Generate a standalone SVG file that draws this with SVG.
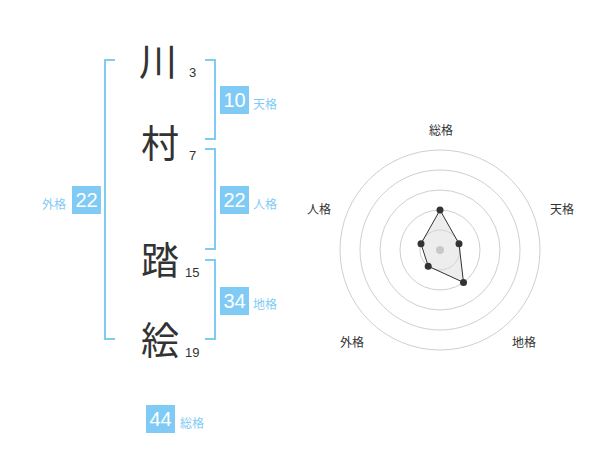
<svg xmlns="http://www.w3.org/2000/svg" width="600" height="470" viewBox="0 0 600 470">
<style>
.kanji{font-family:"Noto Sans CJK JP","Noto Sans CJK SC",sans-serif;font-size:38px;fill:#333;text-anchor:middle}
.num{font-family:"Liberation Sans",Arial,sans-serif;font-size:13px;fill:#333}
.br{fill:none;stroke:#7fcbf5;stroke-width:2}
.box{fill:#7fcbf5}
.bt{font-family:"Liberation Sans",Arial,sans-serif;font-size:20px;fill:#fff;text-anchor:middle}
.lb{font-family:"Noto Sans CJK JP","Noto Sans CJK SC",sans-serif;font-size:12px;fill:#7fcbf5}
.ring{fill:none;stroke:#cfcfcf;stroke-width:1}
.rl{font-family:"Noto Sans CJK JP","Noto Sans CJK SC",sans-serif;font-size:12px;fill:#333;text-anchor:middle}
.pt{fill:#333}
</style>
<rect width="600" height="470" fill="#fff"/>
<g id="names">
<g id="c1"><text class="kanji" x="158" y="75">川</text><text class="num" x="189" y="77">3</text></g>
<g id="c2"><text class="kanji" x="160" y="157">村</text><text class="num" x="189" y="160">7</text></g>
<g id="c3"><text class="kanji" x="160" y="274">踏</text><text class="num" x="185" y="277">15</text></g>
<g id="c4"><text class="kanji" x="160" y="354">絵</text><text class="num" x="185" y="357">19</text></g>
</g>
<g id="connectors">
<path class="br" d="M115,60 H105 V339 H115"/>
<path class="br" d="M205,60 H215 V139 H205"/>
<path class="br" d="M205,149 H215 V249 H205"/>
<path class="br" d="M205,260 H215 V339 H205"/>
</g>
<g id="tenkaku"><rect class="box" x="220" y="86" width="29" height="28"/><text class="bt" x="234.5" y="107">10</text><text class="lb" x="253" y="109">天格</text></g>
<g id="jinkaku"><rect class="box" x="220" y="186" width="29" height="28"/><text class="bt" x="234.5" y="207">22</text><text class="lb" x="253" y="209">人格</text></g>
<g id="chikaku"><rect class="box" x="220" y="287" width="29" height="28"/><text class="bt" x="234.5" y="308">34</text><text class="lb" x="253" y="309">地格</text></g>
<g id="gaikaku"><rect class="box" x="72" y="186" width="29" height="28"/><text class="bt" x="86.5" y="207">22</text><text class="lb" x="66" y="209" text-anchor="end">外格</text></g>
<g id="soukaku"><rect class="box" x="146" y="405" width="29" height="28"/><text class="bt" x="160.5" y="426">44</text><text class="lb" x="180" y="428">総格</text></g>
<g id="radar">
<circle class="ring" cx="440" cy="250" r="100"/>
<circle class="ring" cx="440" cy="250" r="80"/>
<circle class="ring" cx="440" cy="250" r="60"/>
<circle class="ring" cx="440" cy="250" r="40"/>
<circle class="ring" cx="440" cy="250" r="20"/>
<polygon points="440,210 459,243.8 463.5,282.4 428.2,266.2 421,243.8" fill="#d8d8d8" fill-opacity="0.45" stroke="#333" stroke-width="1"/>
<circle cx="440" cy="250" r="4" fill="#c8c8c8"/>
<circle class="pt" cx="440" cy="210" r="3.5"/>
<circle class="pt" cx="459" cy="243.8" r="3.5"/>
<circle class="pt" cx="463.5" cy="282.4" r="3.5"/>
<circle class="pt" cx="428.2" cy="266.2" r="3.5"/>
<circle class="pt" cx="421" cy="243.8" r="3.5"/>
<text class="rl" x="441" y="135">総格</text>
<text class="rl" x="562" y="214">天格</text>
<text class="rl" x="524" y="347">地格</text>
<text class="rl" x="352" y="347">外格</text>
<text class="rl" x="319" y="214">人格</text>
</g>
</svg>
